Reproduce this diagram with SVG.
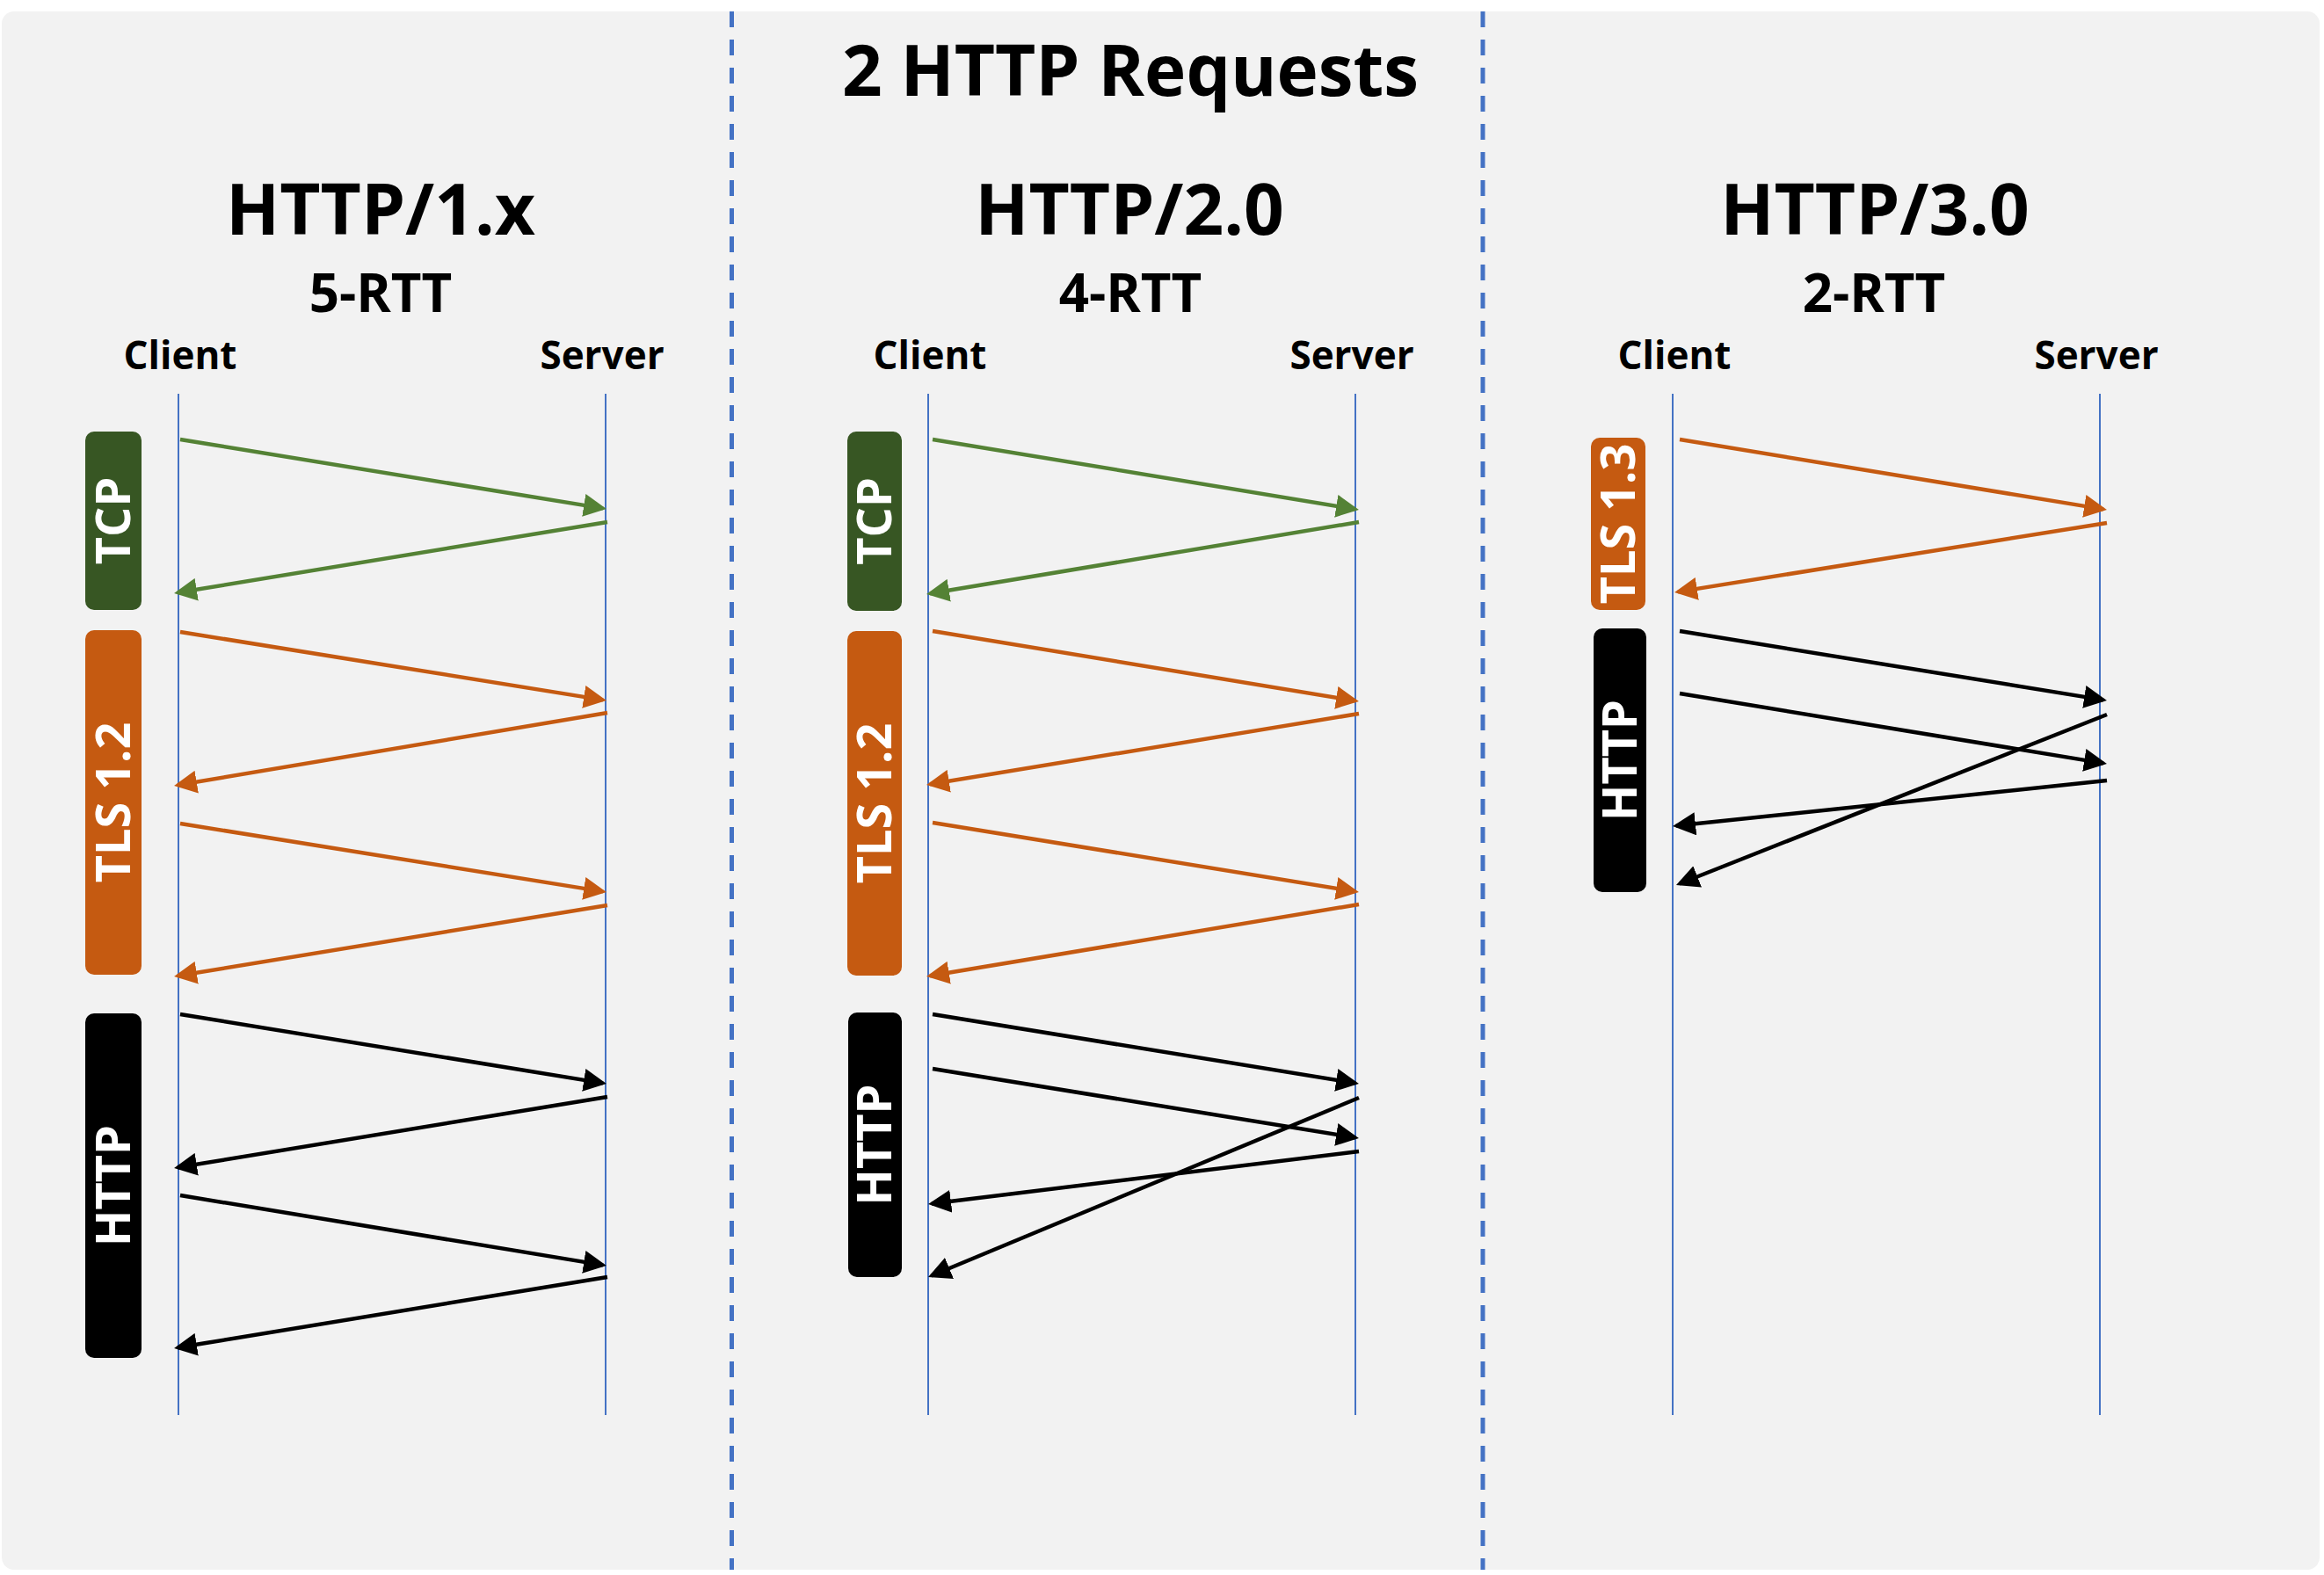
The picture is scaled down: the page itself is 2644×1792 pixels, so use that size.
<svg xmlns="http://www.w3.org/2000/svg" width="2644" height="1792" viewBox="0 0 2644 1792">
<style>
text{font-family:"Open Sans","Noto Sans","Liberation Sans",sans-serif;font-weight:700;fill:#000;text-anchor:middle}
.title{font-size:80px}
.rtt{font-size:60px}
.role{font-size:44px}
.lbl{font-size:54px;fill:#fff}
.life{stroke:#4472C4;stroke-width:2;fill:none}
.sep{stroke:#4472C4;stroke-width:5;stroke-dasharray:18 14;fill:none}
.arr{fill:none;stroke-width:4.5;stroke-linecap:butt}
.g{stroke:#548235;marker-end:url(#mg)}
.o{stroke:#C55A11;marker-end:url(#mo)}
.k{stroke:#000;marker-end:url(#mk)}
.tcp{fill:#375623}
.tls{fill:#C55A11}
.http{fill:#000}
</style>
<defs>
<marker id="mg" markerUnits="userSpaceOnUse" markerWidth="26" markerHeight="26" refX="22" refY="13" orient="auto"><path d="M0,0 L26,13 L0,26 Z" fill="#548235"/></marker>
<marker id="mo" markerUnits="userSpaceOnUse" markerWidth="26" markerHeight="26" refX="22" refY="13" orient="auto"><path d="M0,0 L26,13 L0,26 Z" fill="#C55A11"/></marker>
<marker id="mk" markerUnits="userSpaceOnUse" markerWidth="26" markerHeight="26" refX="22" refY="13" orient="auto"><path d="M0,0 L26,13 L0,26 Z" fill="#000"/></marker>
</defs>
<rect x="0" y="0" width="2644" height="1792" fill="#fff"/>
<rect id="background" x="2" y="13" width="2637" height="1773" rx="14" fill="#F2F2F2"/>
<g id="separators">
<line class="sep" x1="832.5" y1="13" x2="832.5" y2="1786"/>
<line class="sep" x1="1687" y1="13" x2="1687" y2="1786"/>
</g>
<text id="main-title" class="title" x="1286" y="109">2 HTTP Requests</text>

<g id="panel-http1">
<text class="title" x="433" y="267">HTTP/1.x</text>
<text class="rtt" x="433" y="355">5-RTT</text>
<g id="p1-client"><text class="role" x="205" y="420">Client</text><line class="life" x1="203" y1="448" x2="203" y2="1610"/></g>
<g id="p1-server"><text class="role" x="685" y="420">Server</text><line class="life" x1="689" y1="448" x2="689" y2="1610"/></g>
<g id="p1-tcp"><rect class="tcp" x="97" y="491" width="64" height="203" rx="10"/><text class="lbl" transform="translate(148,592.5) rotate(-90)">TCP</text></g>
<g id="p1-tls"><rect class="tls" x="97" y="717" width="64" height="392" rx="10"/><text class="lbl" transform="translate(148,913) rotate(-90)">TLS 1.2</text></g>
<g id="p1-http"><rect class="http" x="97" y="1153" width="64" height="392" rx="10"/><text class="lbl" transform="translate(148,1349) rotate(-90)">HTTP</text></g>
</g>

<g id="panel-http2">
<text class="title" x="1285" y="267">HTTP/2.0</text>
<text class="rtt" x="1286" y="355">4-RTT</text>
<g id="p2-client"><text class="role" x="1058" y="420">Client</text><line class="life" x1="1056" y1="448" x2="1056" y2="1610"/></g>
<g id="p2-server"><text class="role" x="1538" y="420">Server</text><line class="life" x1="1542" y1="448" x2="1542" y2="1610"/></g>
<g id="p2-tcp"><rect class="tcp" x="964" y="491" width="62" height="204" rx="10"/><text class="lbl" transform="translate(1014,593) rotate(-90)">TCP</text></g>
<g id="p2-tls"><rect class="tls" x="964" y="718" width="62" height="392" rx="10"/><text class="lbl" transform="translate(1014,914) rotate(-90)">TLS 1.2</text></g>
<g id="p2-http"><rect class="http" x="965" y="1152" width="61" height="301" rx="10"/><text class="lbl" transform="translate(1014,1302.5) rotate(-90)">HTTP</text></g>
</g>

<g id="panel-http3">
<text class="title" x="2133" y="267">HTTP/3.0</text>
<text class="rtt" x="2132" y="355">2-RTT</text>
<g id="p3-client"><text class="role" x="1905" y="420">Client</text><line class="life" x1="1903" y1="448" x2="1903" y2="1610"/></g>
<g id="p3-server"><text class="role" x="2385" y="420">Server</text><line class="life" x1="2389" y1="448" x2="2389" y2="1610"/></g>
<g id="p3-tls"><rect class="tls" x="1810" y="498" width="62" height="196" rx="10"/><text class="lbl" transform="translate(1860,596) rotate(-90)">TLS 1.3</text></g>
<g id="p3-http"><rect class="http" x="1813" y="715" width="60" height="300" rx="10"/><text class="lbl" transform="translate(1862,865) rotate(-90)">HTTP</text></g>
</g>

<g id="connectors">
<path class="arr g" d="M205,500 L686,578.4"/>
<path class="arr g" d="M691,594 L202,674.3"/>
<path class="arr o" d="M205,719 L686,796.4"/>
<path class="arr o" d="M691,811 L202,893.3"/>
<path class="arr o" d="M205,937 L686,1014.4"/>
<path class="arr o" d="M691,1030 L202,1110.3"/>
<path class="arr k" d="M205,1154 L686,1232.4"/>
<path class="arr k" d="M691,1248 L202,1328.3"/>
<path class="arr k" d="M205,1360 L686,1439.4"/>
<path class="arr k" d="M691,1453 L202,1533.3"/>

<path class="arr g" d="M1061,500 L1542,579.4"/>
<path class="arr g" d="M1546,594 L1058,675.3"/>
<path class="arr o" d="M1061,718 L1542,797.4"/>
<path class="arr o" d="M1546,812 L1058,892.3"/>
<path class="arr o" d="M1061,936 L1542,1014.4"/>
<path class="arr o" d="M1546,1029 L1058,1110.3"/>
<path class="arr k" d="M1061,1154 L1542,1232.4"/>
<path class="arr k" d="M1061,1216 L1542,1294.4"/>
<path class="arr k" d="M1546,1249 L1059.7,1451.5"/>
<path class="arr k" d="M1546,1310 L1060,1369.5"/>

<path class="arr o" d="M1911,500 L2393,579.4"/>
<path class="arr o" d="M2397,595 L1909,673.4"/>
<path class="arr k" d="M1911,718 L2393,796.4"/>
<path class="arr k" d="M1911,789 L2393,868.4"/>
<path class="arr k" d="M2397,813 L1910.7,1005.5"/>
<path class="arr k" d="M2397,888 L1907,939.6"/>
</g>
</svg>
